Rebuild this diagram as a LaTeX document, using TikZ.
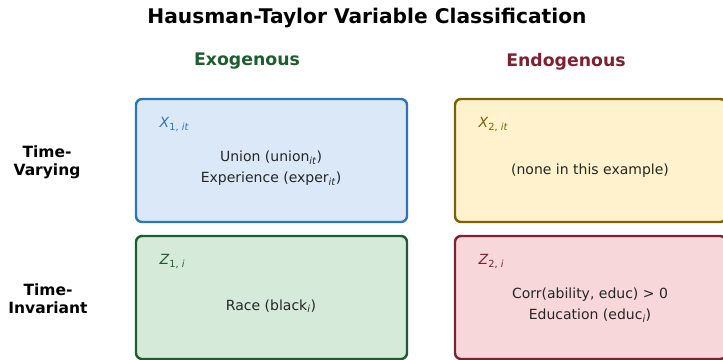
\documentclass[tikz,border=0pt]{standalone}
\usepackage{fontspec}
\setmainfont{DejaVu Sans}
\usetikzlibrary{positioning}
\definecolor{exoX}{HTML}{2E75B6}
\definecolor{exoXfill}{HTML}{DAE8F7}
\definecolor{endX}{HTML}{7F6000}
\definecolor{endXfill}{HTML}{FFF2CC}
\definecolor{exoZ}{HTML}{1E5E2E}
\definecolor{exoZfill}{HTML}{D5EAD8}
\definecolor{endZ}{HTML}{7B2230}
\definecolor{endZfill}{HTML}{F8D7DA}
\newcommand{\sub}[1]{\textsubscript{#1}}
\begin{document}
\begin{tikzpicture}[x=1pt,y=-1pt,
  cell/.style={draw, line width=2.4pt, rounded corners=6pt, minimum width=271pt, minimum height=123pt, inner sep=0pt},
  tag/.style={anchor=west, font=\fontsize{14}{16}\selectfont},
  body/.style={align=center, font=\fontsize{14}{21}\selectfont, text=black!85},
  colhead/.style={font=\fontsize{17.3}{20}\selectfont\bfseries},
  rowhead/.style={align=center, font=\fontsize{15.5}{18}\selectfont\bfseries}]
\useasboundingbox (0,0) rectangle (723,359);
\clip (0,0) rectangle (723,359);

\node[font=\fontsize{20.2}{24}\selectfont\bfseries] (title) at (367,18.5) {Hausman-Taylor Variable Classification};

\node[colhead, text=exoZ] (exo) at (247,61.5) {Exogenous};
\node[colhead, text=endZ] (endo) at (566,61.5) {Endogenous};

\node[rowhead] (tv) at (47,162) {Time-\\Varying};
\node[rowhead] (ti) at (48,298.5) {Time-\\Invariant};

% time-varying row
\node[cell, draw=exoX, fill=exoXfill] (x1) at (271.5,160.5) {};
\node[cell, draw=endX, fill=endXfill] (x2) at (590.5,160.5) {};
% time-invariant row
\node[cell, draw=exoZ, fill=exoZfill] (z1) at (271.5,297.5) {};
\node[cell, draw=endZ, fill=endZfill] (z2) at (590.5,297.5) {};

\node[tag, text=exoX] (x1t) at (156,124.5) {\textit{X}\sub{1, \itshape it}};
\node[tag, text=endX] (x2t) at (475,124.5) {\textit{X}\sub{2, \itshape it}};
\node[tag, text=exoZ] (z1t) at (156,261.5) {\textit{Z}\sub{1, \itshape i}};
\node[tag, text=endZ] (z2t) at (475,261.5) {\textit{Z}\sub{2, \itshape i}};

\node[body] (x1b) at (271,168.5) {Union (union\sub{\itshape it})\\Experience (exper\sub{\itshape it})};
\node[body] (x2b) at (590,170.5) {(none in this example)};
\node[body] (z1b) at (271,306) {Race (black\sub{\itshape i})};
\node[body] (z2b) at (590,305) {Corr(ability, educ) > 0\\Education (educ\sub{\itshape i})};
\end{tikzpicture}
\end{document}
